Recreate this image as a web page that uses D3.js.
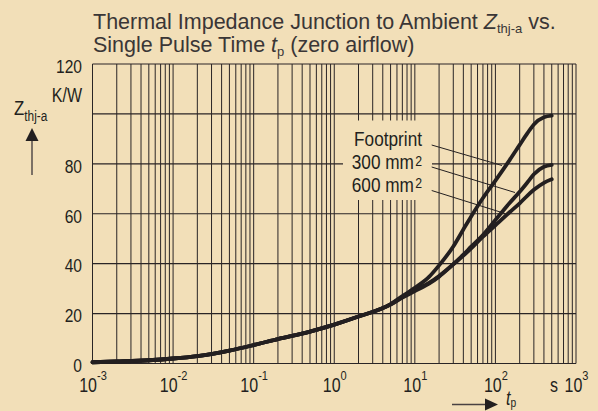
<!DOCTYPE html>
<html>
<head>
<meta charset="utf-8">
<script src="https://cdn.jsdelivr.net/npm/d3@7"></script>
<style>
  html, body { margin: 0; padding: 0; background: #f2dfb8; }
  svg { display: block; }
</style>
</head>
<body>
<script>
// ---------------- data ----------------
const xTickValues = [1e-3, 1e-2, 1e-1, 1e0, 1e1, 1e2, 1e3];
const xTickExponents = ["-3", "-2", "-1", "0", "1", "2", "3"];
const yTickValues = [0, 20, 40, 60, 80, 100, 120];
const yTickLabels = ["0", "20", "40", "60", "80", "", "120"];

const times = [0.001, 0.002, 0.005, 0.01, 0.02, 0.05, 0.1, 0.2, 0.5, 1, 2, 5, 7, 10, 15, 20, 30, 40, 50, 70, 100, 150, 200, 250, 300, 400, 500];
const zFootprint = [0.5, 0.8, 1.3, 2.0, 3.0, 5.2, 7.4, 9.8, 12.8, 15.6, 18.8, 23.8, 27.0, 30.3, 34.7, 39.3, 46.9, 53.7, 58.9, 66.3, 73.3, 81.5, 87.6, 92.3, 95.8, 98.7, 99.3];
const z300mm2 =    [0.5, 0.8, 1.3, 2.0, 3.0, 5.2, 7.4, 9.8, 12.8, 15.6, 18.8, 23.7, 26.6, 29.4, 32.3, 35.1, 39.8, 43.6, 46.8, 51.5, 57.5, 64.3, 68.8, 72.6, 75.8, 78.8, 79.6];
const z600mm2 =    [0.5, 0.8, 1.3, 2.0, 3.0, 5.2, 7.4, 9.8, 12.8, 15.6, 18.8, 23.6, 26.4, 29.0, 32.0, 34.8, 39.7, 43.2, 46.1, 50.8, 55.4, 60.6, 64.2, 67.3, 69.6, 72.4, 73.8];
const seriesNames = ["Footprint", "300 mm", "600 mm"];

// ---------------- setup ----------------
const W = 598, H = 411;
const BG = "#f2dfb8", INK = "#231f20";

function hasFont(name) {
  const c = document.createElement("canvas").getContext("2d");
  const s = "mmmmmmmmmmlli10WWW";
  c.font = "40px monospace";
  const a = c.measureText(s).width;
  c.font = "40px '" + name + "', monospace";
  const b = c.measureText(s).width;
  return Math.abs(a - b) > 0.5;
}
const narrowOK = hasFont("Liberation Sans Narrow");
const NF = narrowOK ? "'Liberation Sans Narrow', 'Liberation Sans', sans-serif" : "'Liberation Sans', Arial, sans-serif";
const SX = narrowOK ? 1 : 0.82;

const svg = d3.select("body").append("svg").attr("width", W).attr("height", H);
svg.append("rect").attr("width", W).attr("height", H).attr("fill", BG);

const x = d3.scaleLog().domain([1e-3, 1e3]).range([92.5, 576]);
const y = d3.scaleLinear().domain([0, 120]).range([363.5, 64]);

function ntext(parent, px, py, size) {
  return parent.append("g")
    .attr("transform", `translate(${px},${py}) scale(${SX},1)`)
    .append("text")
    .attr("font-family", NF)
    .attr("font-size", size)
    .attr("fill", INK);
}

// ---------------- grid ----------------
const grid = svg.append("g");
const minorVals = [];
for (let d = -3; d < 3; d++) for (let k = 1; k <= 9; k++) minorVals.push(k * Math.pow(10, d));
minorVals.push(1e3);

grid.selectAll("line.v").data(minorVals).join("line")
  .attr("class", "v")
  .attr("x1", d => x(d)).attr("x2", d => x(d))
  .attr("y1", y(120)).attr("y2", y(0))
  .attr("stroke", "#2a2526").attr("stroke-width", 1);

grid.selectAll("line.h").data(yTickValues).join("line")
  .attr("class", "h")
  .attr("x1", x(1e-3)).attr("x2", x(1e3))
  .attr("y1", d => y(d)).attr("y2", d => y(d))
  .attr("stroke", "#2a2526").attr("stroke-width", 1.2);

// label box covering grid
svg.append("rect").attr("x", 343).attr("y", 120.5).attr("width", 89).attr("height", 79.5).attr("fill", BG);

// ---------------- axes text ----------------
const yAxis = d3.axisLeft(y).tickValues(yTickValues).tickSize(0).tickPadding(0);
const yAxisG = svg.append("g").attr("transform", "translate(82,0)").call(yAxis);
yAxisG.select(".domain").remove();
yAxisG.selectAll(".tick text").remove();
yAxisG.selectAll(".tick").each(function(d, i) {
  const g = d3.select(this);
  g.append("g").attr("transform", `translate(0,8.3) scale(${SX},1)`)
    .append("text").attr("font-family", NF).attr("font-size", 19).attr("fill", INK)
    .attr("text-anchor", "end").text(yTickLabels[i]);
});

const xAxis = d3.axisBottom(x).tickValues(xTickValues).tickSize(0).tickFormat(() => "");
const xAxisG = svg.append("g").call(xAxis);
xAxisG.select(".domain").remove();
xAxisG.selectAll(".tick text").remove();
xAxisG.selectAll(".tick").each(function(d, i) {
  const g = d3.select(this);
  const t = g.append("g").attr("transform", `translate(0,391.7) scale(${SX},1)`)
    .append("text").attr("font-family", NF).attr("font-size", 19.5).attr("fill", INK)
    .attr("text-anchor", "middle");
  t.append("tspan").text("10");
  t.append("tspan").attr("font-size", 13.5).attr("dy", -12).text(xTickExponents[i]);
});
ntext(svg, 558, 391.7, 19.5).attr("text-anchor", "end").text("s");

// units
ntext(svg, 82, 101.5, 19.5).attr("text-anchor", "end").text("K/W");
const zl = ntext(svg, 14, 115, 20.5);
zl.append("tspan").text("Z");
zl.append("tspan").attr("font-size", 14.5).attr("dy", 6).text("thj-a");

// y arrow
svg.append("line").attr("x1", 32).attr("x2", 32).attr("y1", 175).attr("y2", 139)
  .attr("stroke", "#4a4242").attr("stroke-width", 1.4);
svg.append("path").attr("d", "M32,128 L38.5,141 L25.5,141 Z").attr("fill", INK);

// x arrow
svg.append("line").attr("x1", 452).attr("x2", 487).attr("y1", 404.5).attr("y2", 404.5)
  .attr("stroke", "#4a4242").attr("stroke-width", 1.4);
svg.append("path").attr("d", "M498,404.5 L485,398.5 L485,410.5 Z").attr("fill", INK);
const tp = ntext(svg, 506, 405, 19.5).attr("font-style", "italic");
tp.append("tspan").text("t");
tp.append("tspan").attr("font-size", 12.5).attr("dy", 1.5).attr("font-style", "normal").text("p");

// ---------------- title ----------------
const TF = "'Liberation Sans', Arial, sans-serif";
const t1 = svg.append("text").attr("x", 93).attr("y", 29.3).attr("font-family", TF)
  .attr("font-size", 21.5).attr("fill", "#3a3636");
t1.append("tspan").text("Thermal Impedance Junction to Ambient ");
t1.append("tspan").attr("font-style", "italic").text("Z");
t1.append("tspan").attr("font-size", 13).attr("dy", 4).text("thj-a");
t1.append("tspan").attr("dy", -4).text(" vs.");
const t2 = svg.append("text").attr("x", 93).attr("y", 52.3).attr("font-family", TF)
  .attr("font-size", 21.5).attr("fill", "#3a3636");
t2.append("tspan").text("Single Pulse Time ");
t2.append("tspan").attr("font-style", "italic").text("t");
t2.append("tspan").attr("font-size", 13).attr("dy", 4).text("p");
t2.append("tspan").attr("dy", -4).text(" (zero airflow)");

// ---------------- series labels & leaders ----------------
ntext(svg, 422, 146, 21).attr("text-anchor", "end").text(seriesNames[0]);
[[seriesNames[1], 169], [seriesNames[2], 191.5]].forEach(([s, by]) => {
  const t = ntext(svg, 422, by, 21).attr("text-anchor", "end");
  t.append("tspan").text(s);
  t.append("tspan").attr("font-size", 15).attr("dx", 1.5).attr("dy", -3.5).text("2");
});

const leaders = [
  [431.7, 145, 502, 165.5],
  [431.7, 167, 515, 192.5],
  [431.7, 190.5, 505, 213.5]
];
svg.selectAll("line.leader").data(leaders).join("line")
  .attr("class", "leader")
  .attr("x1", d => d[0]).attr("y1", d => d[1]).attr("x2", d => d[2]).attr("y2", d => d[3])
  .attr("stroke", INK).attr("stroke-width", 1);

// ---------------- curves ----------------
const line = d3.line()
  .x(d => x(d[0])).y(d => y(d[1]))
  .curve(d3.curveMonotoneX);
[zFootprint, z300mm2, z600mm2].forEach(vals => {
  svg.append("path")
    .attr("d", line(times.map((t, i) => [t, vals[i]])))
    .attr("fill", "none").attr("stroke", INK).attr("stroke-width", 3.8)
    .attr("stroke-linecap", "round").attr("stroke-linejoin", "round");
});
</script>
</body>
</html>
